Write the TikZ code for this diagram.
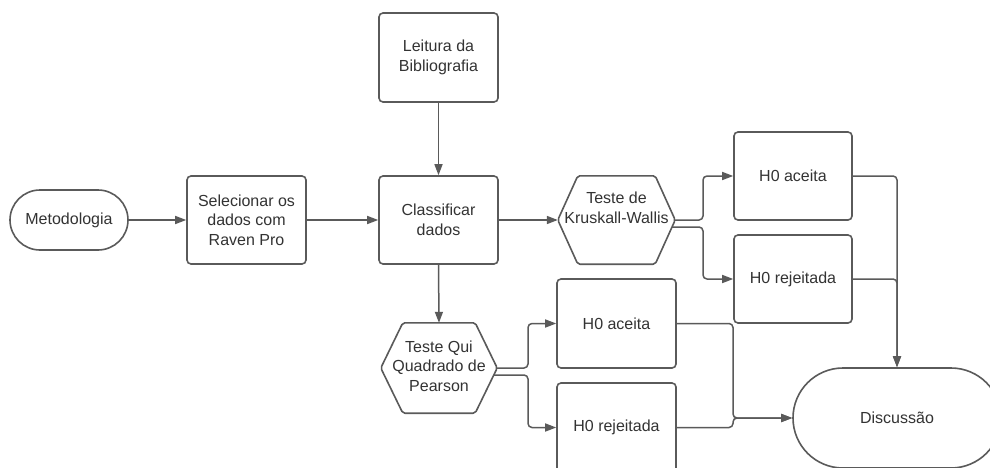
\documentclass[tikz,border=0pt]{standalone}
\usepackage{fontspec}
\setmainfont{Liberation Sans}
\usetikzlibrary{arrows.meta,calc}
\definecolor{ln}{HTML}{5A5A5A}
\definecolor{tx}{HTML}{333333}
\tikzset{
  box/.style={draw=ln, line width=1.6pt, rounded corners=4pt, minimum width=119pt, minimum height=88pt, inner sep=2pt, align=center, text=tx, font=\fontsize{16}{19.5}\selectfont},
  hexbox/.style={minimum width=117pt, minimum height=88pt, inner sep=0pt},
  hexline/.style={draw=ln, line width=1.6pt, line join=round, rounded corners=2pt},
  txt/.style={align=center, text=tx, font=\fontsize{16}{19.5}\selectfont, inner sep=0pt},
  conn/.style={draw=ln, line width=1.5pt, rounded corners=4pt, -{Triangle[length=11pt,width=8pt]}},
  plain/.style={draw=ln, line width=1.5pt, rounded corners=4pt}
}
\begin{document}
\begin{tikzpicture}[x=1pt,y=-1pt]
\useasboundingbox (0,0) rectangle (990,468);
\clip (0,0) rectangle (990,468);
\fill[white] (0,0) rectangle (990,468);

\node[box, minimum width=118pt, minimum height=60pt, rounded corners=30pt] (met) at (69,220) {Metodologia};
\node[box] (sel) at (246.5,220) {Selecionar os\\dados com\\Raven Pro};
\node[box, minimum height=89pt] (lei) at (438.5,57.5) {Leitura da\\Bibliografia};
\node[box] (cla) at (438.5,220) {Classificar\\dados};

% Kruskall-Wallis hexagon
\node[hexbox] (kw) at (616.5,220) {};
\draw[hexline] (kw.west) -- ([xshift=20pt]kw.north west) -- ([xshift=-20pt]kw.north east) -- (kw.east) -- ([xshift=-20pt]kw.south east) -- ([xshift=20pt]kw.south west) -- cycle;
\node[txt] (kwt) at (616.5,208) {Teste de\\Kruskall-Wallis};

\node[box, minimum width=118pt] (ha1) at (793,176) {H0 aceita};
\node[box, minimum width=118pt] (hr1) at (793,279) {H0 rejeitada};

% Qui Quadrado hexagon
\node[hexbox, minimum width=116pt, minimum height=90pt] (qp) at (439,368) {};
\draw[hexline] (qp.west) -- ([xshift=22pt]qp.north west) -- ([xshift=-22pt]qp.north east) -- (qp.east) -- ([xshift=-22pt]qp.south east) -- ([xshift=22pt]qp.south west) -- cycle;
\node[txt] (qpt) at (439,366) {Teste Qui\\Quadrado de\\Pearson};

\node[box, minimum height=89pt] (ha2) at (616.5,323.5) {H0 aceita};
\node[box, minimum height=89pt] (hr2) at (616.5,427.5) {H0 rejeitada};

\node[box, minimum width=208pt, minimum height=100pt, rounded corners=50pt] (dis) at (897,418) {Discussão};

% junction columns
\coordinate (j1) at (703,0);
\coordinate (j2) at (528,0);
\coordinate (j3) at (733,0);

% connectors
\draw[conn] (met.east) -- (sel.west);
\draw[conn] (sel.east) -- (cla.west);
\draw[conn] (lei.south) -- (cla.north);
\draw[conn] (cla.east) -- (kw.west);
\draw[conn] (cla.south) -- (qp.north);

\draw[conn] (kw.east) -- (kw.east -| j1) |- (ha1.west);
\draw[conn] ([xshift=-3pt,yshift=-7pt]kw.east) -- ([yshift=-7pt]kw.east -| j1) |- (hr1.west);

\draw[conn] (qp.east) -- (qp.east -| j2) |- (ha2.west);
\draw[conn] ([xshift=-3pt,yshift=-7pt]qp.east) -- ([yshift=-7pt]qp.east -| j2) |- (hr2.west);

\draw[conn] (ha1.east) -| (dis.north);
\draw[conn] (hr1.east) -| (dis.north);

\draw[conn] (ha2.east) -- (ha2.east -| j3) |- (dis.west);
\draw[conn] (hr2.east) -- (hr2.east -| j3) |- (dis.west);
\end{tikzpicture}
\end{document}
